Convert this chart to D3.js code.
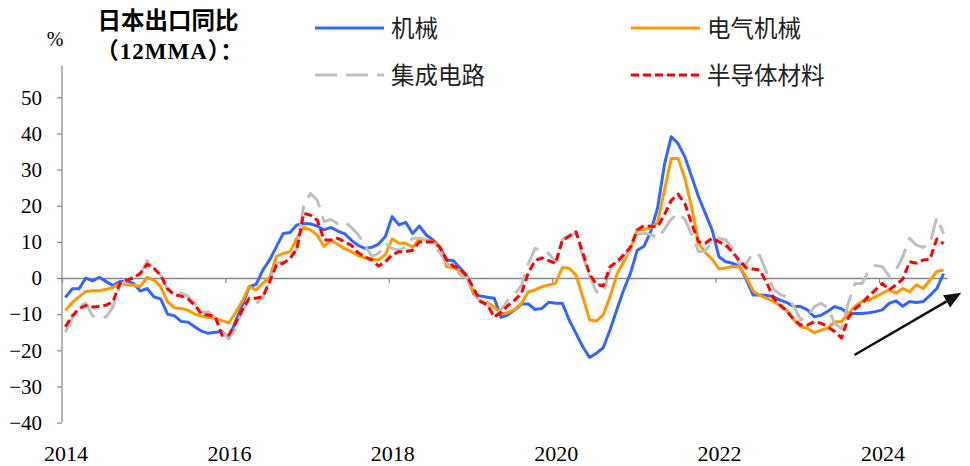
<!DOCTYPE html>
<html>
<head>
<meta charset="utf-8">
<script src="https://cdn.jsdelivr.net/npm/d3@7"></script>
<style>
  body { margin: 0; background: #fff; }
  svg { display: block; }
</style>
</head>
<body>
<div id="chart"></div>
<script>
// Monthly data, Jan 2014 - Oct 2024 (12MMA, %)
var startYear = 2014;
var yearLabels = ["2014", "2016", "2018", "2020", "2022", "2024"];
var yTicks = [-40, -30, -20, -10, 0, 10, 20, 30, 40, 50];
var seriesNames = ["机械", "电气机械", "集成电路", "半导体材料"];

var machinery = [
  -5.4, -3.0, -3.0, 0, -0.8, 0.2, -1.0, -2.1, -1.0, -0.8, -1.5, -3.6,
  -2.9, -5.2, -5.8, -10.0, -10.4, -12.0, -12.2, -13.5, -14.7, -15.3, -15.0, -14.8,
  -16.7, -12.0, -7.5, -2.4, -1.8, 2.2, 5.0, 8.7, 12.3, 12.6, 14.7, 15.0,
  15.0, 14.4, 13.3, 14.0, 13.0, 12.3, 10.5, 9.0, 8.2, 8.5, 9.4, 11.5,
  17.0, 14.7, 15.4, 12.3, 14.4, 11.9, 10.5, 8.7, 5.0, 4.8, 2.7, 0.5,
  -4.5, -5.0, -5.3, -5.6, -10.9, -10.2, -8.8, -7.2, -7.2, -8.7, -8.4, -6.7,
  -7.0, -7.0, -11.6, -15.3, -19.0, -22.0, -20.8, -19.3, -14.4, -8.8, -3.3, 1.3,
  7.7, 8.8, 13.0, 19.5, 31.5, 39.1, 37.2, 33.5, 28.0, 22.5, 17.9, 13.3,
  5.9, 4.5, 4.1, 3.3, -0.3, -4.7, -4.7, -4.8, -5.2, -6.1, -6.8, -7.9,
  -7.9, -8.8, -10.7, -10.3, -9.2, -7.9, -8.5, -9.8, -9.8, -9.8, -9.6, -9.3,
  -8.8, -7.0, -6.3, -7.8, -6.5, -6.8, -6.5, -4.8, -2.9, 1.2
];

var electrical = [
  -9.0, -6.8, -5.2, -3.7, -3.5, -3.5, -3.1, -2.6, -1.5, -1.9, -1.9, -2.4,
  0.2, -0.6, -2.4, -6.5, -8.2, -8.4, -8.9, -10.0, -10.5, -10.9, -11.1, -11.8,
  -12.4, -9.6, -6.3, -2.4, -3.3, -1.5, 0.2, 6.0, 6.8, 7.3, 11.0, 14.0,
  13.3, 11.8, 8.7, 10.5, 9.3, 8.2, 7.3, 6.2, 5.6, 5.3, 5.0, 6.5,
  10.8, 9.6, 9.6, 8.5, 10.8, 10.5, 10.0, 8.7, 3.1, 2.9, 1.8, 0.3,
  -4.2, -6.5, -6.8, -8.1, -9.8, -9.6, -8.7, -7.0, -3.8, -3.3, -2.4, -1.9,
  -1.5, 2.9, 2.7, 0.8, -5.2, -11.6, -11.9, -10.2, -5.2, 1.0, 4.5, 8.0,
  13.3, 13.4, 13.8, 15.5, 24.3, 33.1, 33.1, 27.5, 19.5, 9.6, 7.0, 5.2,
  2.5, 2.8, 3.2, 3.1, 0.3, -3.5, -4.8, -5.6, -6.5, -7.7, -9.0, -11.6,
  -13.5, -13.9, -15.2, -14.4, -13.9, -12.1, -12.1, -9.8, -7.9, -6.5, -6.1, -5.2,
  -4.2, -3.3, -4.2, -2.9, -3.8, -1.9, -2.9, -0.6, 1.8, 2.2
];

var circuits = [
  -15.0, -11.0, -8.0, -7.0, -10.5, -11.0, -10.7, -8.0, -2.0, -0.6, 0.3, 0.8,
  4.8, 2.5, 0.8, -3.0, -3.8, -4.2, -5.0, -7.0, -9.5, -9.3, -11.0, -15.0,
  -16.7, -14.0, -9.0, -6.0, -7.0, -5.5, -0.5, 4.0, 4.5, 5.9, 8.0, 20.0,
  23.4, 21.5, 15.6, 16.2, 15.0, 15.6, 14.0, 12.0, 9.0, 6.0, 6.8, 9.6,
  8.2, 7.7, 8.5, 11.0, 11.0, 10.5, 9.1, 7.0, 4.0, 3.1, 0.8, 0.0,
  -4.7, -6.5, -7.0, -10.7, -8.8, -6.1, -4.5, -2.0, 4.0, 8.2, 7.5, 6.8,
  4.5, 10.5, 11.9, 12.3, 6.0, 0.4, -3.8, -4.2, 2.2, 4.0, 5.7, 8.0,
  12.0, 12.4, 12.0, 11.0, 13.5, 16.3, 17.9, 16.2, 12.0, 7.3, 7.5, 9.9,
  11.0, 10.6, 8.0, 4.0, 4.0, 6.9, 6.2, 1.5, -3.0, -4.6, -5.3, -7.8,
  -11.6, -10.7, -7.9, -7.0, -8.4, -12.5, -14.0, -7.0, -1.5, -1.5, 2.0, 3.5,
  3.1, 0.5, 2.2, 5.9, 11.0, 9.1, 8.5, 9.5, 16.8, 12.3
];

var semiMaterials = [
  -13.5, -10.5, -8.5, -7.6, -8.0, -7.9, -7.5, -6.5, -1.5, -0.6, 0.0, 1.3,
  3.8, 2.7, 0.8, -3.0, -4.6, -5.0, -5.8, -7.5, -10.0, -10.2, -10.7, -15.8,
  -15.8, -12.5, -8.8, -5.6, -5.6, -5.2, -1.0, 3.6, 4.1, 5.4, 8.0, 17.9,
  17.4, 16.0, 10.5, 10.5, 11.0, 10.0, 9.1, 7.0, 5.8, 5.0, 3.3, 4.5,
  6.4, 7.3, 7.3, 7.7, 10.0, 10.0, 10.0, 8.5, 5.0, 3.3, 2.6, 0.5,
  -3.0, -6.5, -7.5, -10.8, -9.5, -7.6, -6.1, -4.2, 1.5, 4.8, 5.6, 4.8,
  4.0, 10.5, 11.5, 12.8, 7.0, 1.0, -1.7, -2.2, 3.1, 4.5, 6.4, 8.5,
  13.3, 14.5, 14.3, 14.2, 17.5, 21.5, 23.2, 20.6, 15.0, 10.0, 9.6, 11.0,
  10.0, 9.1, 7.2, 4.8, 2.8, 2.5, 2.2, -1.2, -5.5, -7.5, -9.2, -11.5,
  -13.0, -13.0, -12.1, -12.5, -13.5, -14.8, -16.6, -11.0, -8.5, -7.0, -5.0, -3.3,
  -1.5, -3.3, -1.9, -0.3, 4.5, 4.1, 5.0, 5.2, 10.8, 9.5
];

// Arrow annotation, in (month index, value)
var arrowFrom = [116.4, -21.3];
var arrowTo = [132.1, -4.1];

var w = 970;
var h = 466;

var xScale = d3.scaleLinear()
  .domain([0, 130])              // months since Jan 2014
  .range([62, 947]);

var yScale = d3.scaleLinear()
  .domain([-40, 50])
  .range([422.6, 97.3]);

var styles = [
  { color: "#3366FF", dash: null },
  { color: "#FF9900", dash: null },
  { color: "#BFBFBF", dash: "22,9" },
  { color: "#FF0000", dash: "8,4" }
];

var svg = d3.select("#chart")
  .append("svg")
  .attr("width", w)
  .attr("height", h);

// y axis
var yAxis = svg.append("g")
  .attr("transform", "translate(" + xScale(0) + ",0)")
  .call(d3.axisLeft(yScale).tickValues(yTicks).tickSize(5).tickPadding(15).tickSizeOuter(0));
yAxis.select(".domain").remove();
yAxis.selectAll("line").attr("stroke", "#888").attr("stroke-width", 1.2);
yAxis.selectAll("text")
  .attr("fill", "#000")
  .style("font-family", "'Liberation Serif', 'Times New Roman', serif")
  .style("font-size", "21px");
svg.append("line")
  .attr("x1", xScale(0)).attr("x2", xScale(0))
  .attr("y1", yScale(58.8)).attr("y2", yScale(-40))
  .attr("stroke", "#888").attr("stroke-width", 1.2);

// x axis on the zero line
var xAxis = svg.append("g")
  .attr("transform", "translate(0," + yScale(0) + ")")
  .call(d3.axisBottom(xScale).tickValues([0, 24, 48, 72, 96, 120]).tickSize(5).tickSizeOuter(0).tickFormat(""));
xAxis.select(".domain").attr("stroke", "#888").attr("stroke-width", 1.5);
xAxis.selectAll("line").attr("stroke", "#888").attr("stroke-width", 1.2);

// year labels at the bottom
svg.selectAll(".year-label")
  .data(yearLabels)
  .enter()
  .append("text")
  .attr("class", "year-label")
  .attr("x", function(d) { return xScale((+d - startYear) * 12 + 0.6); })
  .attr("y", 461)
  .attr("text-anchor", "middle")
  .style("font-family", "'Liberation Serif', 'Times New Roman', serif")
  .style("font-size", "22px")
  .text(function(d) { return d; });

// lines
var line = d3.line()
  .x(function(d, i) { return xScale(i + 0.5); })
  .y(function(d) { return yScale(d); });

var allSeries = [machinery, electrical, circuits, semiMaterials];

allSeries.forEach(function(data, k) {
  svg.append("path")
    .datum(data)
    .attr("fill", "none")
    .attr("stroke", styles[k].color)
    .attr("stroke-width", 3)
    .attr("stroke-linejoin", "round")
    .attr("stroke-dasharray", styles[k].dash)
    .attr("d", line);
});

// legend
var legendPos = [[315, 28], [631, 28], [315, 75], [631, 75]];
seriesNames.forEach(function(name, k) {
  var p = legendPos[k];
  svg.append("line")
    .attr("x1", p[0]).attr("x2", p[0] + 69)
    .attr("y1", p[1]).attr("y2", p[1])
    .attr("stroke", styles[k].color)
    .attr("stroke-width", 3)
    .attr("stroke-dasharray", styles[k].dash);
  svg.append("text")
    .attr("x", p[0] + 76)
    .attr("y", p[1] + 8.5)
    .style("font-family", "'Noto Sans CJK SC', sans-serif")
    .style("font-size", "23.5px")
    .attr("fill", "#222")
    .text(name);
});

// title and unit
svg.append("text")
  .attr("x", 168).attr("y", 29)
  .attr("text-anchor", "middle")
  .attr("font-weight", "bold")
  .style("font-family", "'Noto Sans CJK SC', sans-serif")
  .style("font-size", "23.5px")
  .text("日本出口同比");
svg.append("text")
  .attr("x", 170).attr("y", 59)
  .attr("text-anchor", "middle")
  .attr("font-weight", "bold")
  .style("font-family", "'Liberation Serif', 'Noto Sans CJK SC', serif")
  .style("font-size", "23px")
  .style("letter-spacing", "1px")
  .text("（12MMA）：");
svg.append("text")
  .attr("x", 55).attr("y", 46)
  .attr("text-anchor", "middle")
  .style("font-family", "'Liberation Serif', 'Times New Roman', serif")
  .style("font-size", "20px")
  .text("%");

// arrow
var ax1 = xScale(arrowFrom[0]), ay1 = yScale(arrowFrom[1]);
var ax2 = xScale(arrowTo[0]), ay2 = yScale(arrowTo[1]);
var ang = Math.atan2(ay2 - ay1, ax2 - ax1);
var headLen = 17, headW = 7;
var bx = ax2 - headLen * Math.cos(ang), by = ay2 - headLen * Math.sin(ang);
svg.append("line")
  .attr("x1", ax1).attr("y1", ay1)
  .attr("x2", bx).attr("y2", by)
  .attr("stroke", "#111").attr("stroke-width", 2.5);
svg.append("polygon")
  .attr("points", [
    [ax2, ay2],
    [bx + headW * Math.sin(ang), by - headW * Math.cos(ang)],
    [bx - headW * Math.sin(ang), by + headW * Math.cos(ang)]
  ].map(function(p) { return p.join(","); }).join(" "))
  .attr("fill", "#111");
</script>
</body>
</html>
